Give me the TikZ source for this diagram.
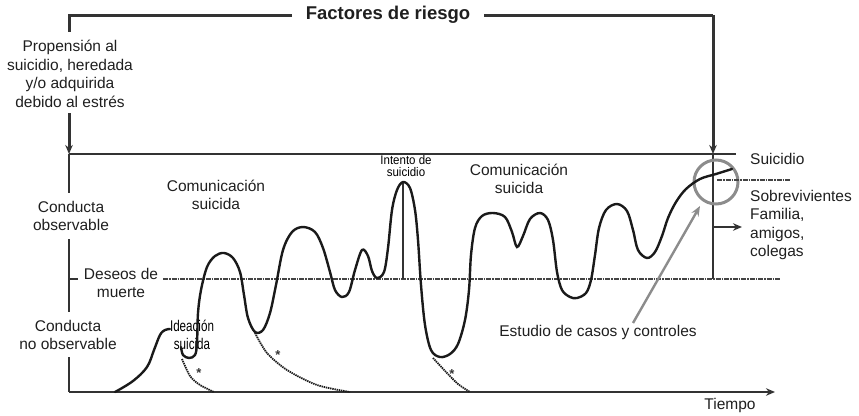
\documentclass[tikz,border=0pt]{standalone}
\usepackage{fontspec}
\setmainfont{Liberation Sans}
\usetikzlibrary{arrows.meta}
\definecolor{ln}{HTML}{333333}
\definecolor{crv}{HTML}{1A1A1A}
\definecolor{dsh}{HTML}{444444}
\definecolor{gry}{HTML}{8C8C8C}
\begin{document}
\begin{tikzpicture}[x=1pt,y=-1pt,
  txt/.style={font=\fontsize{15.5}{18.5}\selectfont, align=center, inner sep=0pt, text=black!88},
  ltxt/.style={font=\fontsize{15.5}{18.5}\selectfont, align=left, inner sep=0pt, text=black!88},
  frame/.style={draw=ln, line width=3pt},
  axisln/.style={draw=ln, line width=2.8pt},
  wish/.style={draw=dsh, line width=2.4pt, dash pattern=on 5pt off 1pt on 1.5pt off 1pt},
  decay/.style={draw=crv, line width=1.8pt, dash pattern=on 1.4pt off 0.8pt},
  curve/.style={draw=crv, line width=2.4pt, line cap=round},
  tip/.style={-{Stealth[length=9pt,width=7.5pt]}},
  star/.style={font=\fontsize{13}{13}\selectfont\bfseries, inner sep=0pt, text=black!80}]
\useasboundingbox (0,0) rectangle (859,415);

% ---- text nodes
\node[txt, font=\fontsize{18.5}{20}\selectfont\bfseries] (fr) at (388,15) {Factores de riesgo};
\node[txt] (prop) at (70,74) {Propensión al\\suicidio, heredada\\y/o adquirida\\debido al estrés};
\node[txt] (obs) at (71,216) {Conducta\\observable};
\node[txt] (des) at (121,283) {Deseos de\\muerte};
\node[txt] (nobs) at (68,335) {Conducta\\no observable};
\node[txt] (com1) at (216,195) {Comunicación\\suicida};
\node[txt] (com2) at (519,179) {Comunicación\\suicida};
\node[inner sep=0pt, align=center] (int) at (406,167.5)
  {\scalebox{0.92}[1]{\fontsize{12.5}{11}\selectfont\begin{tabular}{@{}c@{}}Intento de\\[-0.5pt]suicidio\end{tabular}}};
\node[inner sep=0pt, align=center] (ide) at (192,337)
  {\scalebox{0.75}[1]{\fontsize{15.5}{19}\selectfont\begin{tabular}{@{}c@{}}Ideación\\[-1pt]suicida\end{tabular}}};
\node[ltxt, anchor=west] (sui) at (750,159) {Suicidio};
\node[ltxt, anchor=north west] (sob) at (750,190) {Sobrevivientes\\Familia,\\amigos,\\colegas};
\node[txt] (est) at (598,332) {Estudio de casos y controles};
\node[txt] (tie) at (730,405) {Tiempo};

% ---- coordinates
\coordinate (tl) at (69,15);
\coordinate (tlb) at (69,32);
\coordinate (tr) at (713,15);
\coordinate (frl) at (292,15);
\coordinate (frr) at (484,15);
\coordinate (pa) at (69,113);
\coordinate (mh) at (69,154);
\coordinate (mhr) at (736,154);
\coordinate (rv) at (713,154);
\coordinate (rvb) at (713,279);
\coordinate (la1) at (69,193);
\coordinate (la2) at (69,239);
\coordinate (la3) at (69,312);
\coordinate (lt) at (69,279);
\coordinate (ltr) at (78,279);
\coordinate (la4) at (69,357);
\coordinate (o) at (69,392);
\coordinate (xe) at (775,392);
\coordinate (dl) at (163,279);
\coordinate (dr) at (781,279);
\coordinate (sv) at (713,227);
\coordinate (se) at (742,227);
\coordinate (ga) at (633,323);
\coordinate (gb) at (700,206);
\coordinate (spt) at (403,182);
\coordinate (spb) at (403,279);

% ---- frame and axes
\draw[frame] (frl) -- (tl) -- (tlb);
\draw[frame] (frr) -- (tr);
\draw[frame, tip] (tr) -- (rv);
\draw[frame, tip] (pa) -- (mh);
\draw[axisln] (mh) -- (mhr);
\draw[axisln] (mh) -- (la1);
\draw[axisln] (la2) -- (la3);
\draw[draw=ln, line width=1.4pt] (lt) -- (ltr);
\draw[axisln] (la4) -- (o);
\draw[axisln, tip] (o) -- (xe);
\draw[axisln] (rv) -- (rvb);
\draw[wish] (dl) -- (dr);
\draw[draw=ln, line width=2.4pt] (spt) -- (spb);

% ---- circle, survivors arrow, gray arrow
\node[circle, draw=gry, line width=3pt, minimum size=44pt, inner sep=0pt] (circ) at (716,182) {};
\coordinate (cs) at (717,180);
\coordinate (ce) at (790,180);
\draw[wish] (cs) -- (ce);
\draw[draw=ln, line width=2.2pt, tip] (sv) -- (se);
\draw[draw=gry, line width=2.4pt, -{Stealth[length=10pt,width=8pt]}] (ga) -- (gb);

% ---- first bump
\draw[curve] plot[smooth, tension=0.6] coordinates {(115,392) (133,381) (147,367) (154,350) (160,335) (165,330) (170,329)};

% ---- main curve
\draw[curve] plot[smooth, tension=0.55] coordinates {
(181,347) (183,355) (189,358) (195,355) (197,343) (198,313) (201,290) (207,267) (215,256) (224,253)
(233,258) (240,272) (244,295) (248,318) (255,332) (263,330) (270,313) (276,285) (283,250) (292,232)
(303,227) (315,232) (323,248) (330,272) (335,290) (342,297) (349,292) (355,270) (362,250) (368,256)
(372,271) (377,278) (384,272) (388,248) (392,210) (397,190) (403,182) (410,188) (415,210) (418,240)
(421,285) (425,325) (431,350) (440,357) (450,354) (458,344) (465,320) (469,290) (471,255) (475,228)
(482,216) (493,213) (505,217) (512,232) (517,247) (523,236) (530,219) (540,213) (548,220) (553,240)
(557,272) (562,290) (570,297) (577,298) (586,293) (591,280) (595,255) (599,228) (606,210) (617,204)
(627,211) (633,230) (638,250) (647,258) (655,252) (662,236) (668,218) (676,202) (686,189) (700,179)
(716,174) (732,169)};

% ---- decay curves
\draw[decay] plot[smooth] coordinates {(182,359) (190,376) (200,385) (214,392)};
\draw[decay] plot[smooth] coordinates {(255,333) (267,353) (287,370) (317,385) (350,392)};
\draw[decay] plot[smooth] coordinates {(433,358) (447,373) (458,384) (470,392)};
\node[star] (s1) at (199,373) {*};
\node[star] (s2) at (278,355) {*};
\node[star] (s3) at (452,374) {*};
\end{tikzpicture}
\end{document}
